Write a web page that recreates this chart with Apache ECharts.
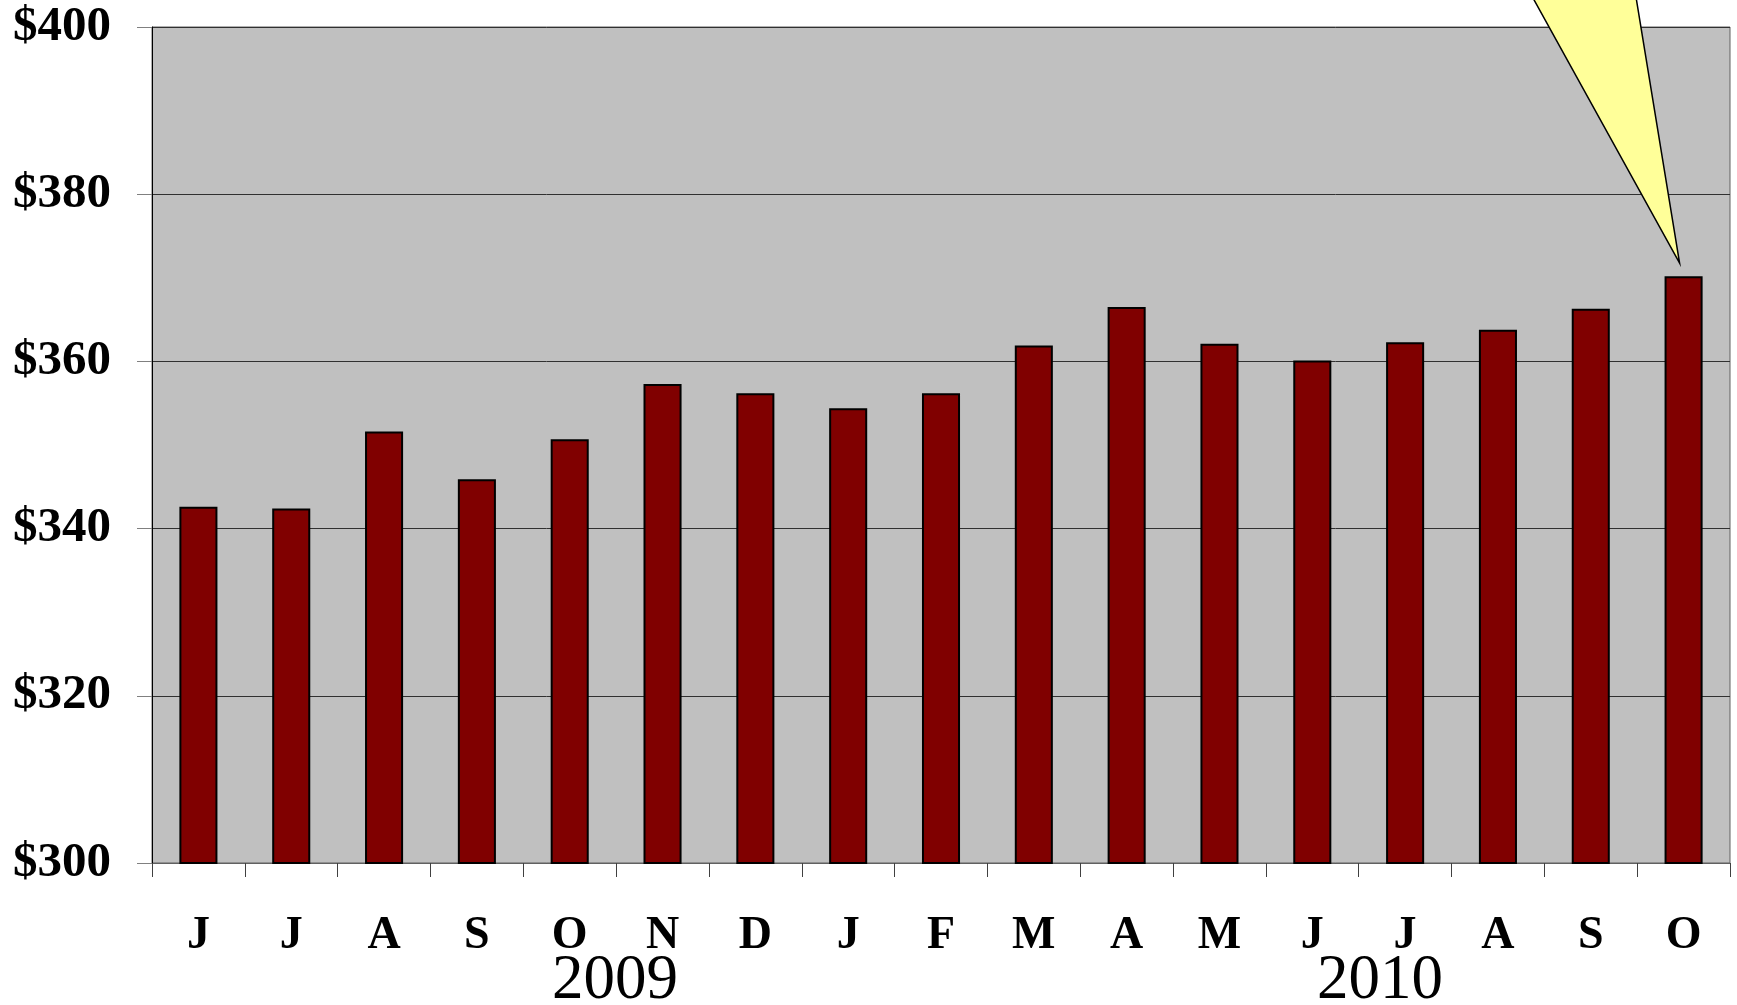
<!DOCTYPE html>
<html>
<head>
<meta charset="utf-8">
<script src="https://cdn.jsdelivr.net/npm/echarts@6/dist/echarts.min.js"></script>
<style>
html,body{margin:0;padding:0;background:#fff;}
#chart{width:1737px;height:1005px;}
</style>
</head>
<body>
<div id="chart"></div>
<script>
var months = ['J','J','A','S','O','N','D','J','F','M','A','M','J','J','A','S','O'];
var values = [342.6,342.4,351.6,345.9,350.7,357.3,356.2,354.4,356.2,361.9,366.5,362.1,360.1,362.3,363.8,366.3,370.2];
var yearLabels = ['2009','2010'];
var yTicks = {min:300, max:400, interval:20};

var chart = echarts.init(document.getElementById('chart'), null, {renderer:'canvas'});
var serif = '"Liberation Serif","Times New Roman",serif';

var option = {
  animation:false,
  backgroundColor:'#ffffff',
  grid:{left:152,right:7,top:27,bottom:142,show:true,backgroundColor:'#C0C0C0',borderColor:'#606060',borderWidth:1},
  xAxis:{
    type:'category',
    data:months,
    axisLine:{show:true,lineStyle:{color:'#606060',width:1}},
    axisTick:{show:true,length:14,lineStyle:{color:'#404040',width:1}},
    axisLabel:{margin:50,fontFamily:serif,fontWeight:'bold',fontSize:46,color:'#000'}
  },
  yAxis:{
    type:'value',
    min:yTicks.min,max:yTicks.max,interval:yTicks.interval,
    axisLine:{show:true,lineStyle:{color:'#000',width:1}},
    axisTick:{show:true,inside:false,length:15,lineStyle:{color:'#808080',width:1}},
    splitLine:{show:true,lineStyle:{color:'#303030',width:1}},
    axisLabel:{margin:41,fontFamily:serif,fontWeight:'bold',fontSize:49,color:'#000',
      formatter:function(v){return '$'+v;}}
  },
  series:[{
    type:'bar',
    data:values,
    barWidth:'41%',
    itemStyle:{color:'#800000',borderColor:'#000',borderWidth:2}
  }]
};
chart.setOption(option);

var last = values.length-1;
var tip = chart.convertToPixel({xAxisIndex:0,yAxisIndex:0},[last, values[last]]);
var tx = tip[0]-4, ty = tip[1]-13;
chart.setOption({
  graphic:[
    {type:'polygon',shape:{points:[[tx-162,ty-293],[tx-48,ty-293],[tx,ty]]},
     style:{fill:'#FFFF99',stroke:'#000',lineWidth:1.5},z:100},
    {type:'text',x:615,y:981,style:{text:yearLabels[0],font:'normal 63px '+serif,fill:'#000',textAlign:'center',textVerticalAlign:'middle'},z:100},
    {type:'text',x:1380,y:981,style:{text:yearLabels[1],font:'normal 63px '+serif,fill:'#000',textAlign:'center',textVerticalAlign:'middle'},z:100}
  ]
});
</script>
</body>
</html>
